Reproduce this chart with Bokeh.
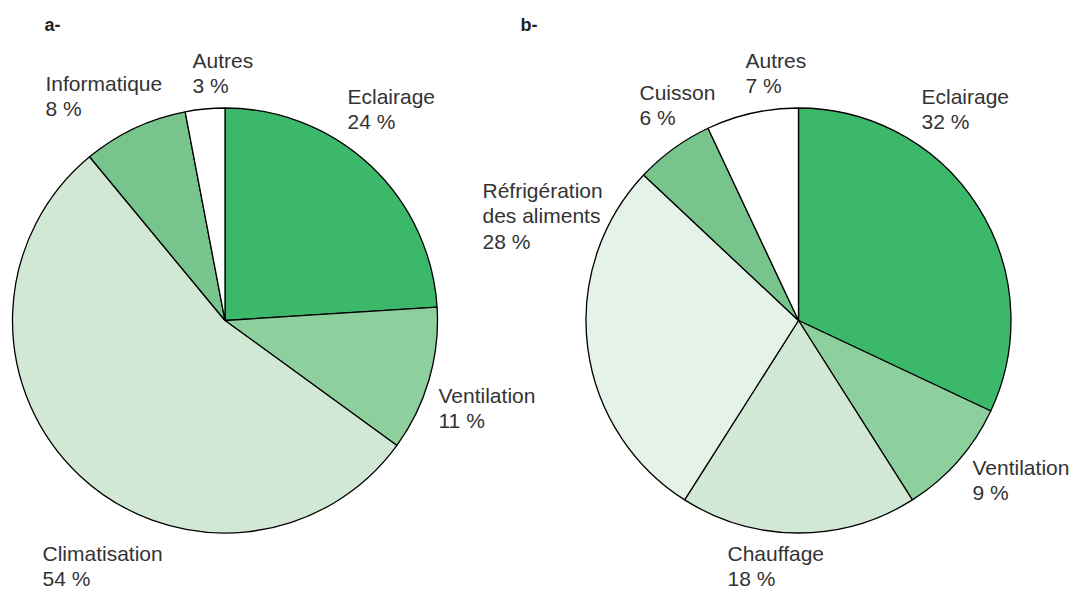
import numpy as np
from bokeh.plotting import figure
from bokeh.models import Range1d, ColumnDataSource
from bokeh.core.properties import value
from bokeh.embed import file_html
from bokeh.resources import INLINE

# ---- data ----
cats_a = ["Eclairage", "Ventilation", "Climatisation", "Informatique", "Autres"]
vals_a = [24, 11, 54, 8, 3]
cols_a = ["#3cb86a", "#8ecf9e", "#d1e9d4", "#77c48c", "#ffffff"]

cats_b = ["Eclairage", "Ventilation", "Chauffage", "Réfrigération\ndes aliments", "Cuisson", "Autres"]
vals_b = [32, 9, 18, 28, 6, 7]
cols_b = ["#3cb86a", "#8ecf9e", "#d1e9d4", "#e4f2e7", "#77c48c", "#ffffff"]

titles = ["a-", "b-"]

# ---- layout (screen px, top-left origin) ----
W, H = 1071, 590
centers = [(224.5, 320), (798, 320)]
R = 212.5
# cap-top positions of the first line of each label
lab_a = [(347, 89), (438, 388), (42, 546), (45, 76), (192, 53)]
lab_b = [(921, 89), (972, 460), (727, 546), (482, 183), (639, 85), (745, 53)]
title_pos = [(44, 18), (520, 18)]
FS = 21
LINE = 25.5
SHIFT = 8.5
TXT = "#333333"
FONT = "Liberation Sans"

p = figure(width=W, height=H, output_backend="svg", toolbar_location=None,
           x_range=Range1d(0, W), y_range=Range1d(0, H),
           min_border=0, min_border_left=0, min_border_right=0,
           min_border_top=0, min_border_bottom=0)
p.axis.visible = False
p.grid.visible = False
p.outline_line_color = None
p.background_fill_color = "white"


def draw_pie(center, cats, vals, cols, labs):
    total = float(sum(vals))
    frac = np.array(vals) / total
    cum = np.concatenate([[0.0], np.cumsum(frac)])
    th0 = np.pi / 2 - 2 * np.pi * cum[:-1]
    th1 = np.pi / 2 - 2 * np.pi * cum[1:]
    cx, cy = center
    src = ColumnDataSource(dict(start=list(th1), end=list(th0), color=cols))
    p.wedge(x=cx, y=H - cy, radius=R, start_angle="start", end_angle="end",
            fill_color="color", line_color="black", line_width=1.3, source=src)
    xs, ys, ts = [], [], []
    for cat, v, (lx, ly) in zip(cats, vals, labs):
        lines = cat.split("\n") + [f"{v} %"]
        for i, t in enumerate(lines):
            xs.append(lx)
            ys.append(H - (ly + 15 + i * LINE - SHIFT))
            ts.append(t)
    p.text(x=xs, y=ys, text=ts, text_font=value(FONT), text_font_size=f"{FS}px",
           text_color=TXT, text_baseline="alphabetic", text_align="left")


draw_pie(centers[0], cats_a, vals_a, cols_a, lab_a)
draw_pie(centers[1], cats_b, vals_b, cols_b, lab_b)

p.text(x=[t[0] for t in title_pos], y=[H - (t[1] + 13 - 7) for t in title_pos], text=titles,
       text_font=value(FONT), text_font_size="18px", text_font_style="bold",
       text_color="#222222", text_baseline="alphabetic")

open("out.html", "w").write(file_html(p, INLINE))
